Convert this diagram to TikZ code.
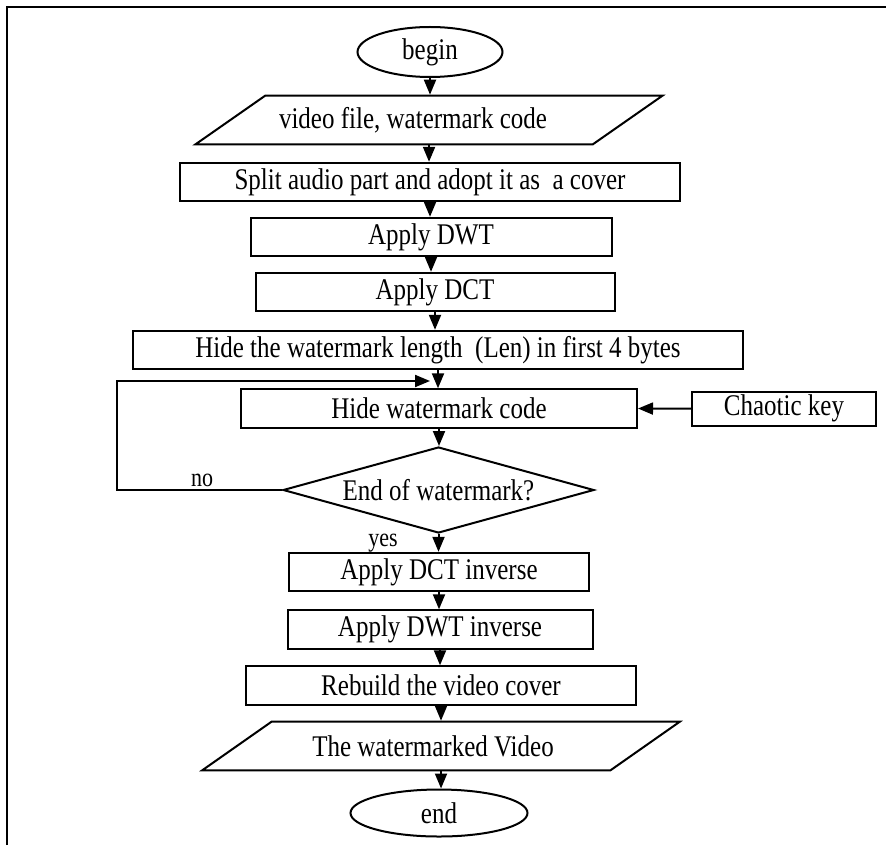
\documentclass[tikz,border=0pt]{standalone}
\usepackage{fontspec}
\usepackage{graphicx}
\setmainfont{Liberation Serif}
\usetikzlibrary{shapes.geometric,arrows.meta}
\newcommand\tx[1]{\scalebox{1}[1.2]{#1}}
\tikzset{
  proc/.style={draw,rectangle,inner sep=0pt,minimum height=19.2pt},
  term/.style={draw,ellipse,inner sep=0pt},
  io/.style={draw,trapezium,trapezium left angle=22,trapezium right angle=158,
    trapezium stretches=true,inner sep=0pt,minimum height=24.3pt},
  test/.style={draw,diamond,aspect=3.6,inner sep=0pt},
  flow/.style={-{Triangle[length=7.5pt,width=6pt]}},
  lbl/.style={font=\fontsize{11}{12}\selectfont},
}
\begin{document}
\begin{tikzpicture}[x=0.5pt,y=-0.5pt,line width=1pt,font=\fontsize{12.5}{15}\selectfont]
\useasboundingbox (0,0) rectangle (886,845);
% frame (top and left only)
\draw (7,845) -- (7,7.5) -- (886,7.5);
% terminals and data
\node[term,minimum width=72.5pt,minimum height=25pt] (begin) at (430,52) {\tx{begin}};
\node[io,minimum width=234pt] (vid) at (429,120) {\tx{video file, watermark code}\kern16pt};
\node[io,minimum width=239pt] (out) at (441,746) {\tx{The watermarked Video}\kern8pt};
\node[term,minimum width=88.5pt,minimum height=23.5pt] (end) at (439,813) {\tx{end}};
% process boxes
\foreach \n/\x/\y/\w/\t in {%
  split/430/182/250/{Split audio part and adopt it as\ \ a cover},
  dwt/431/237/180.5/{Apply DWT}, dct/435/292/179.5/{Apply DCT},
  hlen/438/350/305/{Hide the watermark length\ \ (Len) in first 4 bytes},
  hcode/439/408.5/198/{Hide watermark code},
  dcti/439/572/150/{Apply DCT inverse}, dwti/440/629.5/152.5/{Apply DWT inverse},
  rebuild/441/685.5/195/{Rebuild the video cover}}
  {\node[proc,minimum width=\w pt] (\n) at (\x,\y) {\tx{\t}};}
\node[proc,minimum width=92pt,minimum height=17pt] (key) at (784,408.7) {\tx{Chaotic key}};
\node[test,minimum width=155.5pt,minimum height=43pt] (endq) at (438.5,490) {\tx{End of watermark?}};
\node[lbl] (no) at (202,480) {\tx{no}};
\node[lbl] (yes) at (383,543) {\tx{yes}};
% connectors
\foreach \a/\b in {begin/vid,vid/split,split/dwt,dwt/dct,dct/hlen,hlen/hcode,
  hcode/endq,endq/dcti,dcti/dwti,dwti/rebuild,rebuild/out,out/end}
  \draw[flow] (\a.south) -- (\a.south |- \b.north);
\draw[flow] (key.west) -- (hcode.east);
\coordinate (back) at (117,381);
\coordinate (loop) at (430,381);
\draw[flow] (endq.west) -| (back) -- (loop);
\end{tikzpicture}
\end{document}
